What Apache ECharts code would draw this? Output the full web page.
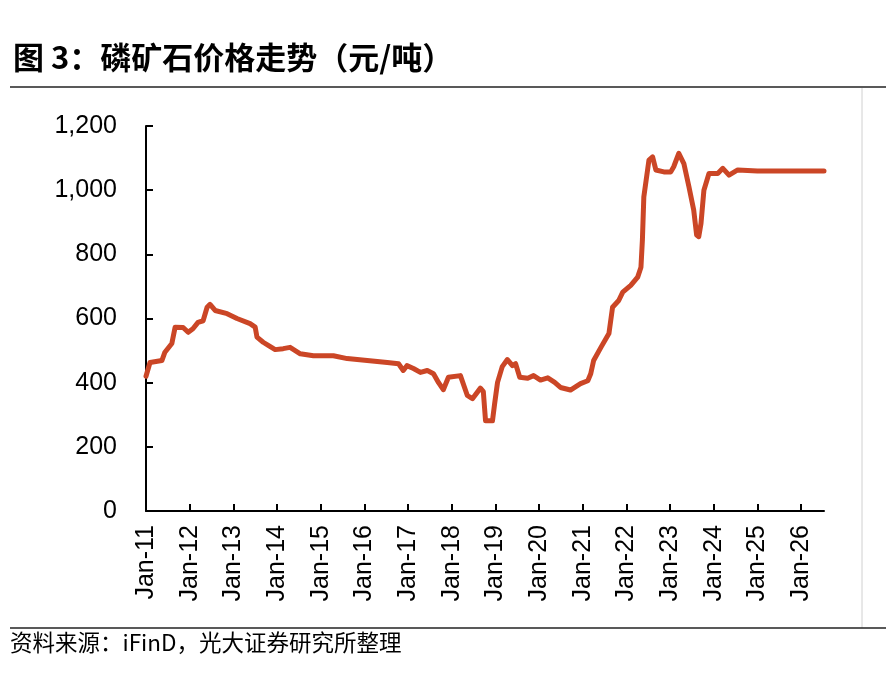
<!DOCTYPE html>
<html>
<head>
<meta charset="utf-8">
<script src="https://cdn.jsdelivr.net/npm/echarts@6/dist/echarts.min.js"></script>
<style>
html,body{margin:0;padding:0;background:#fff;}
#c{width:886px;height:690px;}
</style>
</head>
<body>
<div id="c"></div>
<script>
var titleText = '图 3：磷矿石价格走势（元/吨）';
var sourceText = '资料来源：iFinD，光大证券研究所整理';
var yearTicks = [2011,2012,2013,2014,2015,2016,2017,2018,2019,2020,2021,2022,2023,2024,2025,2026];
var dates = [
'2011-01-01','2011-02-04','2011-05-12','2011-06-07','2011-08-04','2011-09-01','2011-11-07','2011-12-19',
'2012-01-28','2012-03-10','2012-04-22','2012-05-25','2012-06-19','2012-08-01','2012-11-10',
'2013-02-01','2013-05-19','2013-07-01','2013-07-16','2013-09-07','2013-10-19','2013-12-16',
'2014-02-22','2014-04-19','2014-07-13','2014-11-01',
'2015-04-16','2015-08-10',
'2016-01-25','2016-07-10','2016-10-13','2016-11-22','2016-12-22',
'2017-02-16','2017-04-13','2017-06-10','2017-08-01','2017-09-13','2017-10-22','2017-12-04',
'2018-03-13','2018-05-10','2018-06-22','2018-08-28','2018-09-22','2018-10-10','2018-12-07','2018-12-25',
'2019-01-19','2019-02-28','2019-04-10','2019-05-22','2019-06-18','2019-07-22','2019-09-28','2019-11-16',
'2020-01-13','2020-03-13','2020-05-10','2020-06-28','2020-09-20','2020-12-13',
'2021-02-13','2021-03-07','2021-04-01','2021-06-01','2021-08-07','2021-09-07','2021-10-28','2021-12-01',
'2022-02-07','2022-04-04','2022-05-01','2022-05-13','2022-05-25','2022-07-07','2022-08-07','2022-09-04','2022-11-10',
'2023-01-07','2023-02-01','2023-03-13','2023-04-25','2023-06-07','2023-07-16','2023-08-10','2023-08-28','2023-09-16','2023-10-10','2023-11-22',
'2024-02-04','2024-03-16','2024-05-07','2024-07-19',
'2025-01-01','2025-07-01','2026-01-01','2026-07-10'
];
var prices = [
420,463,469,495,522,573,572,557,
568,588,593,635,644,625,615,
600,584,573,542,526,516,503,
506,510,490,484,
484,475,
469,463,459,438,453,
444,432,438,428,400,378,417,
422,360,350,383,372,281,281,334,
401,450,472,453,459,417,414,422,
408,415,401,385,377,397,
406,428,469,510,553,635,656,682,
703,729,760,844,979,1094,1104,1063,1057,
1057,1073,1115,1083,1010,938,860,855,896,1000,1052,
1052,1068,1047,1063,
1060,1060,1060,1060
];

function toYear(s){
  var p = s.split('-');
  return (+p[0]) + ((+p[1]) - 1) / 12 + ((+p[2]) - 1) / 365;
}
var seriesData = dates.map(function(d, i){ return [toYear(d), prices[i]]; });

var chart = echarts.init(document.getElementById('c'));
var cjk = '"Noto Sans CJK SC", "Noto Sans", sans-serif';
var latin = '"Liberation Sans", Arial, sans-serif';
chart.setOption({
  animation: false,
  backgroundColor: '#fff',
  title: {
    text: titleText,
    left: 8, top: 37,
    textStyle: { fontFamily: cjk, fontSize: 31, fontWeight: 'bold', color: '#000' }
  },
  graphic: [
    { type: 'line', shape: { x1: 10, y1: 87, x2: 886, y2: 87 }, style: { stroke: '#222', lineWidth: 1.5 } },
    { type: 'line', shape: { x1: 862, y1: 88, x2: 862, y2: 628 }, style: { stroke: '#d0d0d0', lineWidth: 1 } },
    { type: 'line', shape: { x1: 10, y1: 628, x2: 886, y2: 628 }, style: { stroke: '#222', lineWidth: 1.5 } },
    { type: 'text', left: 10, top: 631, style: { text: sourceText, font: '22.5px "Noto Sans CJK SC", sans-serif', fill: '#000' } }
  ],
  grid: { left: 146, right: 62, top: 126, bottom: 179, containLabel: false },
  xAxis: {
    type: 'value',
    min: 2011, max: toYear('2026-07-10'),
    axisLine: { show: true, lineStyle: { color: '#000', width: 2 } },
    axisTick: { show: true, inside: true, length: 7, lineStyle: { color: '#000', width: 2 }, customValues: yearTicks },
    axisLabel: {
      customValues: yearTicks,
      rotate: 90, margin: 14,
      fontFamily: latin, fontSize: 25, color: '#000',
      formatter: function(v){ return 'Jan-' + String(Math.round(v)).slice(2); }
    },
    splitLine: { show: false }
  },
  yAxis: {
    type: 'value',
    min: 0, max: 1200, interval: 200,
    axisLine: { show: true, lineStyle: { color: '#000', width: 2 } },
    axisTick: { show: true, inside: true, length: 7, lineStyle: { color: '#000', width: 2 } },
    axisLabel: {
      margin: 29, fontFamily: latin, fontSize: 25, color: '#000',
      formatter: function(v){ return v.toLocaleString('en-US'); }
    },
    splitLine: { show: false }
  },
  series: [{
    type: 'line',
    data: seriesData,
    showSymbol: false,
    lineStyle: { color: '#CB4626', width: 5, join: 'round', cap: 'round' },
    itemStyle: { color: '#CB4626' }
  }]
});
</script>
</body>
</html>
